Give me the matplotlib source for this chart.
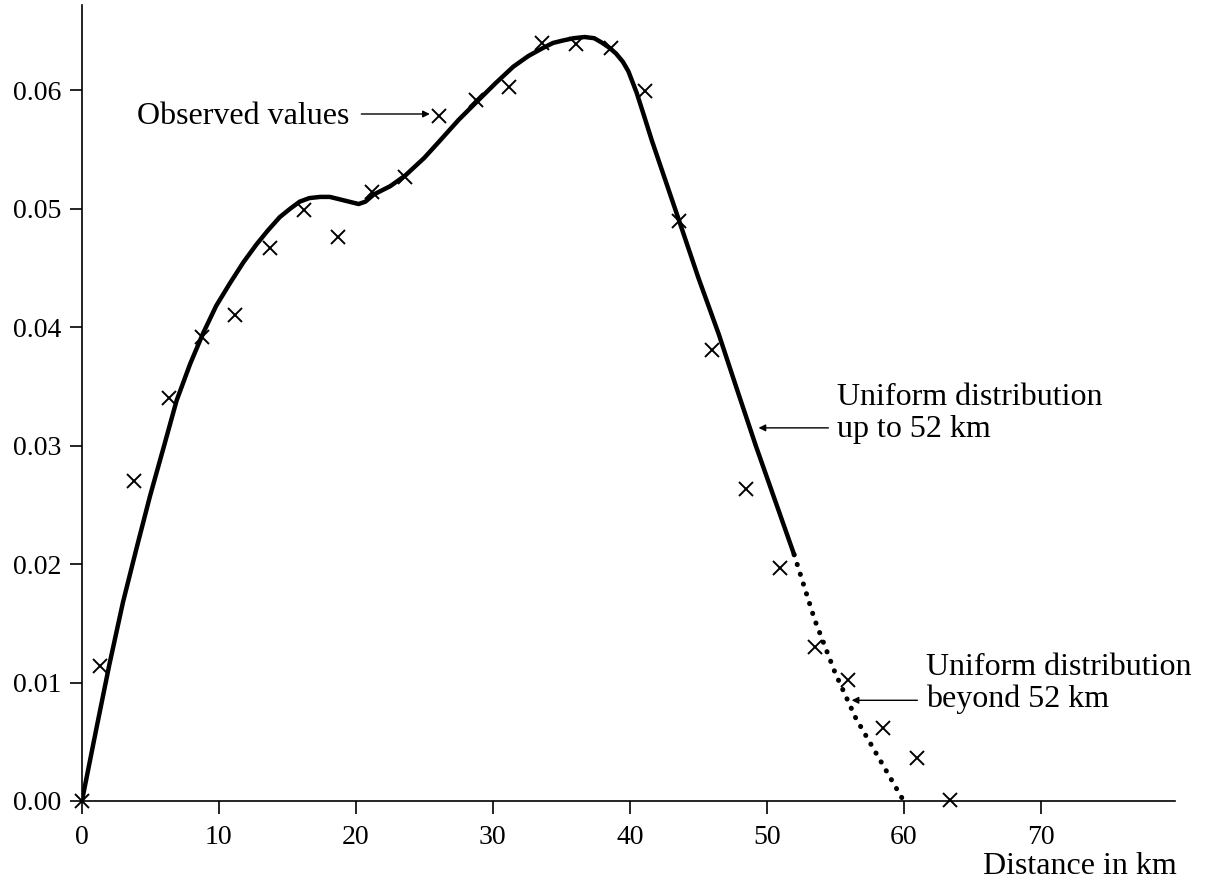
import matplotlib
matplotlib.use("Agg")
import matplotlib.pyplot as plt

plt.rcParams['font.family'] = ['Liberation Serif', 'DejaVu Serif']

# Observed values (crosses)
obs_x = [0.0, 1.3, 3.8, 6.35, 8.8, 11.2, 13.7, 16.2, 18.7, 21.2, 23.6, 26.1, 28.8,
         31.2, 33.6, 36.1, 38.6, 41.1, 43.6, 46.0, 48.5, 51.0, 53.5, 55.9, 58.5, 61.0, 63.4]
obs_y = [0.0, 0.0114, 0.0270, 0.0340, 0.0392, 0.0410, 0.0467, 0.0499, 0.0476, 0.0514,
         0.0527, 0.0578, 0.0592, 0.0603, 0.0640, 0.0639, 0.0636, 0.0599, 0.0490, 0.0381,
         0.0263, 0.0197, 0.0130, 0.0102, 0.0062, 0.0036, 0.0001]

# Fitted curve: uniform distribution up to 52 km (solid)
fit_x = [0.0, 1.0, 2.0, 3.0, 4.0, 4.96, 6.0, 6.91, 7.9, 8.85, 9.8, 10.8, 11.8, 12.75,
         13.6, 14.45, 15.2, 15.9, 16.6, 17.4, 18.1, 18.8, 19.5, 20.2, 20.7, 21.3, 22.5,
         23.6, 25.0, 26.1, 27.5, 28.8, 30.2, 31.5, 32.6, 33.7, 34.4, 35.1, 35.9, 36.7,
         37.4, 38.0, 38.5, 39.0, 39.5, 39.9, 40.2, 40.5, 41.0, 41.6, 42.6, 43.6, 45.0,
         46.5, 47.9, 49.2, 50.6, 52.0]
fit_y = [0.0, 0.0058, 0.0115, 0.0168, 0.0214, 0.0257, 0.0300, 0.0338, 0.0369, 0.0395,
         0.0418, 0.0437, 0.0455, 0.0470, 0.0482, 0.0493, 0.0500, 0.0506, 0.0509, 0.0510,
         0.0510, 0.0508, 0.0506, 0.0504, 0.0506, 0.0512, 0.0519, 0.0528, 0.0543, 0.0557,
         0.0575, 0.0590, 0.0606, 0.0620, 0.0629, 0.0636, 0.0640, 0.0642, 0.0644, 0.0645,
         0.0644, 0.0640, 0.0636, 0.0631, 0.0624, 0.0616, 0.0607, 0.0598, 0.0580, 0.0558,
         0.0524, 0.0490, 0.0442, 0.0394, 0.0345, 0.0300, 0.0254, 0.0208]

# Extension: uniform distribution beyond 52 km (dotted)
ext_x = [52.0, 53.5, 55.0, 56.5, 58.0, 59.2, 60.0]
ext_y = [0.0208, 0.0153, 0.0108, 0.0070, 0.0040, 0.0016, 0.0]

fig = plt.figure(figsize=(12.05, 8.83), dpi=100)
ax = fig.add_axes([0.068, 0.0929, 0.907, 0.9014])

ax.plot(fit_x, fit_y, color='black', lw=3.2, solid_capstyle='round',
        solid_joinstyle='round', zorder=3)
ax.plot(ext_x, ext_y, color='black', lw=3.6, linestyle=(0, (0.05, 2.0)),
        dash_capstyle='round', zorder=3)
ax.plot(obs_x, obs_y, linestyle='none', marker='x', color='black',
        markersize=10, markeredgewidth=1.4, zorder=4, clip_on=False)

ax.set_xlim(0, 79.8)
ax.set_ylim(0, 0.0672)
ax.set_xticks([0, 10, 20, 30, 40, 50, 60, 70])
ax.set_yticks([0.0, 0.01, 0.02, 0.03, 0.04, 0.05, 0.06])
ax.set_yticklabels(['0.00', '0.01', '0.02', '0.03', '0.04', '0.05', '0.06'])
ax.tick_params(axis='both', direction='out', length=9, width=1.2, labelsize=20,
               color='black')
ax.tick_params(axis='x', pad=8)
ax.tick_params(axis='y', pad=6)
for s in ['top', 'right']:
    ax.spines[s].set_visible(False)
for s in ['left', 'bottom']:
    ax.spines[s].set_linewidth(1.2)

fig.text(1177 / 1205, 1 - 867 / 883, 'Distance in km', ha='right', va='center',
         fontsize=23)

arrow = dict(arrowstyle='-|>', color='black', lw=1.0, mutation_scale=10,
             shrinkA=0, shrinkB=0)
ax.text(19.55, 0.0578, 'Observed values', fontsize=23, ha='right', va='center')
ax.annotate('', xy=(25.4, 0.0580), xytext=(20.4, 0.0580), arrowprops=arrow)
ax.annotate('', xy=(49.4, 0.0315), xytext=(54.5, 0.0315), arrowprops=arrow)
ax.text(55.1, 0.0327, 'Uniform distribution\nup to 52 km', fontsize=23,
        ha='left', va='center', linespacing=1.12)
ax.annotate('', xy=(56.2, 0.0085), xytext=(61.0, 0.0085), arrowprops=arrow)
ax.text(61.6, 0.0099, 'Uniform distribution\nbeyond 52 km', fontsize=23,
        ha='left', va='center', linespacing=1.12)

fig.savefig('out.png', dpi=100)
